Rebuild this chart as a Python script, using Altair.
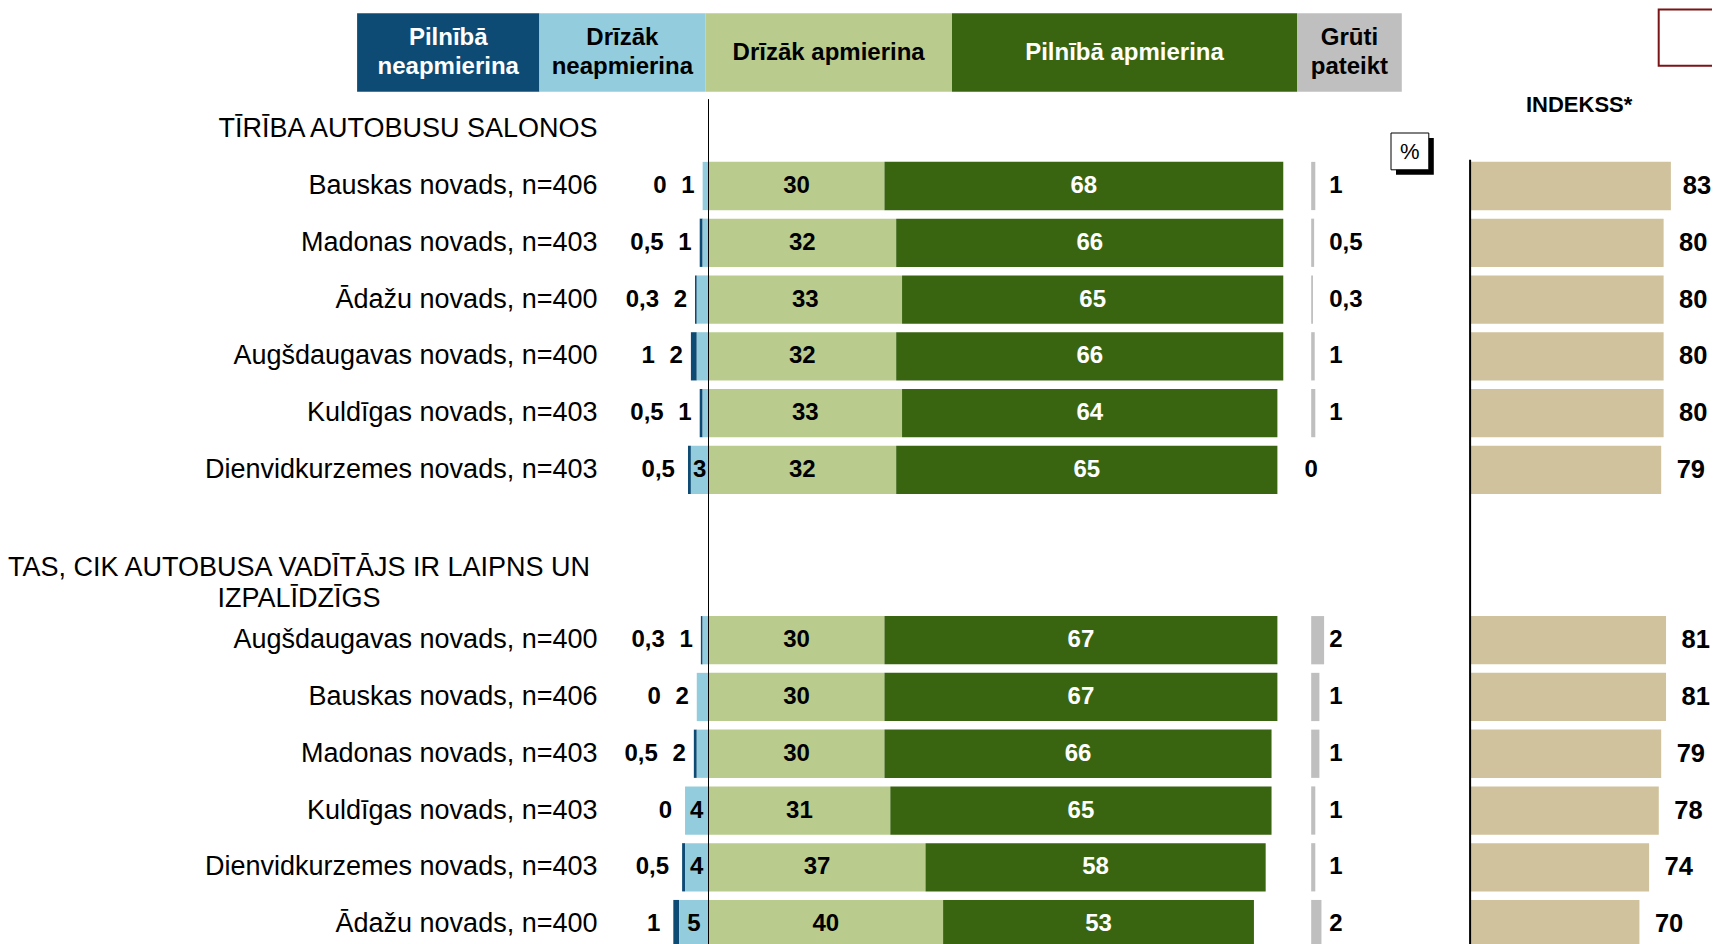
import altair as alt
import pandas as pd

FONT = "Liberation Sans"

# ---------------- data ----------------
legend_labels = ["Pilnībā\nneapmierina", "Drīzāk\nneapmierina", "Drīzāk apmierina",
                 "Pilnībā apmierina", "Grūti\npateikt"]

section_titles = ["TĪRĪBA AUTOBUSU SALONOS",
                  "TAS, CIK AUTOBUSA VADĪTĀJS IR LAIPNS UN~IZPALĪDZĪGS"]

s1_labels = ["Bauskas novads, n=406", "Madonas novads, n=403", "Ādažu novads, n=400",
             "Augšdaugavas novads, n=400", "Kuldīgas novads, n=403", "Dienvidkurzemes novads, n=403"]
s1_pilniba_neapm = [0, 0.5, 0.3, 1, 0.5, 0.5]
s1_drizak_neapm = [1, 1, 2, 2, 1, 3]
s1_drizak_apm = [30, 32, 33, 32, 33, 32]
s1_pilniba_apm = [68, 66, 65, 66, 64, 65]
s1_gruti = [1, 0.5, 0.3, 1, 1, 0]
s1_gruti_bar = [0.7, 0.5, 0.3, 0.6, 0.7, 0]
s1_indekss = [83, 80, 80, 80, 80, 79]

s2_labels = ["Augšdaugavas novads, n=400", "Bauskas novads, n=406", "Madonas novads, n=403",
             "Kuldīgas novads, n=403", "Dienvidkurzemes novads, n=403", "Ādažu novads, n=400"]
s2_pilniba_neapm = [0.3, 0, 0.5, 0, 0.5, 1]
s2_drizak_neapm = [1, 2, 2, 4, 4, 5]
s2_drizak_apm = [30, 30, 30, 31, 37, 40]
s2_pilniba_apm = [67, 67, 66, 65, 58, 53]
s2_gruti = [2, 1, 1, 1, 1, 2]
s2_gruti_bar = [2.2, 1.4, 1.4, 0.7, 0.7, 1.75]
s2_indekss = [81, 81, 79, 78, 74, 70]

# ---------------- table ----------------
keys1 = ["a%d|%s" % (i, l) for i, l in enumerate(s1_labels)]
keys2 = ["b%d|%s" % (i, l) for i, l in enumerate(s2_labels)]
domain = (["h1|" + section_titles[0]] + keys1 + ["gap|", "h2|" + section_titles[1]] + keys2)

df = pd.DataFrame({
    "key": keys1 + keys2,
    "n1": s1_pilniba_neapm + s2_pilniba_neapm,
    "n2": s1_drizak_neapm + s2_drizak_neapm,
    "p1": s1_drizak_apm + s2_drizak_apm,
    "p2": s1_pilniba_apm + s2_pilniba_apm,
    "gp": s1_gruti + s2_gruti,
    "gpbar": s1_gruti_bar + s2_gruti_bar,
    "idx": s1_indekss + s2_indekss,
})

# ---------------- styles / layout ----------------
DARK_BLUE = "#0E4B74"
LIGHT_BLUE = "#93CDDD"
LIGHT_GREEN = "#B9CC8E"
DARK_GREEN = "#3A6510"
GRAY = "#BFBFBF"
TAN = "#D0C29C"

W, H = 1704, 936
DY = 2.5
main_scale = alt.Scale(domain=[0, 100], range=[700.5, 1287.0], nice=False, zero=False)
gr_scale = alt.Scale(domain=[0, 10], range=[1303.2, 1361.8], nice=False, zero=False)
ix_scale = alt.Scale(domain=[0, 100], range=[1462.1, 1704.0], nice=False, zero=False)
y_scale = alt.Scale(domain=domain, range=[94.6 + DY, 937.7 + DY], paddingInner=0.15, paddingOuter=0)

axis_rows = alt.Axis(orient="left", offset=-589, title=None, domain=False, ticks=False,
                     tickSize=0, grid=False, labelPadding=0, labelAlign="right",
                     labelBaseline="middle", labelFont=FONT, labelFontSize=27,
                     labelColor="black", labelLimit=1000, labelOverlap=False,
                     labelExpr="indexof(datum.value, 'h2|') == 0 ? '' : split(datum.value, '|')[1]")
axis_h2 = alt.Axis(orient="left", offset=-290.5, title=None, domain=False, ticks=False,
                   tickSize=0, grid=False, labelPadding=0, labelAlign="center",
                   labelBaseline="middle", labelFont=FONT, labelFontSize=27,
                   labelColor="black", labelLimit=1000, labelOverlap=False, labelLineHeight=31,
                   labelOffset=-15.5,
                   labelExpr="indexof(datum.value, 'h2|') == 0 ? split(split(datum.value, '|')[1], '~') : ''")


def Y(axis=None):
    return alt.Y("key:N", scale=y_scale, axis=axis)


base = alt.Chart(df)
fmt = lambda f: "replace(toString(datum.%s), '.', ',')" % f
lbl = dict(font=FONT, fontWeight="bold", fontSize=24, baseline="middle")

layers = []

# negative side
layers.append(base.transform_calculate(a="-(datum.n1 + datum.n2)", b="-datum.n2")
              .mark_bar(color=DARK_BLUE)
              .encode(x=alt.X("a:Q", scale=main_scale, axis=None), x2="b:Q", y=Y(axis_h2)))
layers.append(base.transform_calculate(a="-datum.n2", b="0")
              .mark_bar(color=LIGHT_BLUE)
              .encode(x=alt.X("a:Q", scale=main_scale, axis=None), x2="b:Q", y=Y(axis_rows)))
# positive side
layers.append(base.transform_calculate(a="0", b="datum.p1")
              .mark_bar(color=LIGHT_GREEN)
              .encode(x=alt.X("a:Q", scale=main_scale, axis=None), x2="b:Q", y=Y()))
layers.append(base.transform_calculate(a="datum.p1", b="datum.p1 + datum.p2")
              .mark_bar(color=DARK_GREEN)
              .encode(x=alt.X("a:Q", scale=main_scale, axis=None), x2="b:Q", y=Y()))

# labels positive
layers.append(base.transform_calculate(c="datum.p1 / 2", t=fmt("p1"))
              .mark_text(color="black", align="center", **lbl)
              .encode(x=alt.X("c:Q", scale=main_scale, axis=None), y=Y(), text="t:N"))
layers.append(base.transform_calculate(c="datum.p1 + datum.p2 / 2", t=fmt("p2"))
              .mark_text(color="white", align="center", **lbl)
              .encode(x=alt.X("c:Q", scale=main_scale, axis=None), y=Y(), text="t:N"))
# labels negative
layers.append(base.transform_filter("datum.n2 >= 3")
              .transform_calculate(c="-datum.n2 / 2", t=fmt("n2"))
              .mark_text(color="black", align="center", **lbl)
              .encode(x=alt.X("c:Q", scale=main_scale, axis=None), y=Y(), text="t:N"))
layers.append(base.transform_filter("datum.n2 < 3")
              .transform_calculate(c="-(datum.n1 + datum.n2)", t=fmt("n2"))
              .mark_text(color="black", align="right", dx=-8, **lbl)
              .encode(x=alt.X("c:Q", scale=main_scale, axis=None), y=Y(), text="t:N"))
layers.append(base.transform_filter("datum.n2 >= 3")
              .transform_calculate(c="-(datum.n1 + datum.n2)", t=fmt("n1"))
              .mark_text(color="black", align="right", dx=-13, **lbl)
              .encode(x=alt.X("c:Q", scale=main_scale, axis=None), y=Y(), text="t:N"))
layers.append(base.transform_filter("datum.n2 < 3")
              .transform_calculate(c="-(datum.n1 + datum.n2)", t=fmt("n1"))
              .mark_text(color="black", align="right", dx=-36, **lbl)
              .encode(x=alt.X("c:Q", scale=main_scale, axis=None), y=Y(), text="t:N"))

# Grūti pateikt
layers.append(base.transform_calculate(z="0")
              .mark_bar(color=GRAY)
              .encode(x=alt.X("z:Q", scale=gr_scale, axis=None), x2="gpbar:Q", y=Y()))
layers.append(base.transform_filter("datum.gp > 0")
              .transform_calculate(z="0", t=fmt("gp"))
              .mark_text(color="black", align="left", dx=18, **lbl)
              .encode(x=alt.X("z:Q", scale=gr_scale, axis=None), y=Y(), text="t:N"))
layers.append(base.transform_filter("datum.gp == 0")
              .transform_calculate(z="0", t=fmt("gp"))
              .mark_text(color="black", align="center", **lbl)
              .encode(x=alt.X("z:Q", scale=gr_scale, axis=None), y=Y(), text="t:N"))

# Indekss (label kept inside the visible page at the right edge)
layers.append(base.transform_calculate(z="0")
              .mark_bar(color=TAN)
              .encode(x=alt.X("z:Q", scale=ix_scale, axis=None), x2="idx:Q", y=Y()))
layers.append(base.transform_calculate(lx="min(datum.idx + 6.4, 87.9)")
              .mark_text(color="black", align="left", font=FONT, fontWeight="bold",
                         fontSize=25.5, baseline="middle")
              .encode(x=alt.X("lx:Q", scale=ix_scale, axis=None), y=Y(), text="idx:Q"))

one = pd.DataFrame({"z": [0]})
# zero line and index axis line
layers.append(alt.Chart(one).mark_rule(color="black", strokeWidth=1)
              .encode(x=alt.X("z:Q", scale=main_scale, axis=None), y=alt.value(88.6 + DY), y2=alt.value(H + 10)))
layers.append(alt.Chart(one).mark_rule(color="black", strokeWidth=2)
              .encode(x=alt.X("z:Q", scale=ix_scale, axis=None), y=alt.value(149.3 + DY), y2=alt.value(H + 10)))

# legend header
legend_edges = [349.1, 531.4, 697.3, 944.0, 1289.0, 1393.8]
legend_fills = [DARK_BLUE, LIGHT_BLUE, LIGHT_GREEN, DARK_GREEN, GRAY]
legend_text = ["white", "black", "black", "white", "black"]
LEG_TOP, LEG_BOTTOM, LEG_LH = 3.0 + 2.2, 81.6 + 2.2, 28.4
for i, lab in enumerate(legend_labels):
    d = pd.DataFrame({"t": [lab]})
    l, r = legend_edges[i], legend_edges[i + 1]
    nlines = lab.count("\n") + 1
    yc = (LEG_TOP + LEG_BOTTOM) / 2 - (nlines - 1) * LEG_LH / 2
    layers.append(alt.Chart(d).mark_rect(color=legend_fills[i])
                  .encode(x=alt.value(l), x2=alt.value(r), y=alt.value(LEG_TOP), y2=alt.value(LEG_BOTTOM)))
    layers.append(alt.Chart(d).mark_text(color=legend_text[i], font=FONT, fontWeight="bold",
                                         fontSize=24, align="center", baseline="middle",
                                         lineBreak="\n", lineHeight=LEG_LH)
                  .encode(x=alt.value((l + r) / 2), y=alt.value(yc), text="t:N"))

# INDEKSS* title
layers.append(alt.Chart(pd.DataFrame({"t": ["INDEKSS*"]}))
              .mark_text(font=FONT, fontWeight="bold", fontSize=22, color="black",
                         align="center", baseline="middle")
              .encode(x=alt.value(1571.1), y=alt.value(96.8), text="t:N"))

# "%" box with shadow
pct = pd.DataFrame({"t": ["%"]})
layers.append(alt.Chart(pct).mark_rect(color="black")
              .encode(x=alt.value(1388.0), x2=alt.value(1425.8), y=alt.value(130.0), y2=alt.value(166.8)))
layers.append(alt.Chart(pct).mark_rect(fill="white", stroke="black", strokeWidth=1)
              .encode(x=alt.value(1383.0), x2=alt.value(1420.8), y=alt.value(125.0), y2=alt.value(161.8)))
layers.append(alt.Chart(pct).mark_text(font=FONT, fontSize=22, color="black",
                                       align="center", baseline="middle")
              .encode(x=alt.value(1401.9), y=alt.value(143.9), text="t:N"))

# red frame top right
layers.append(alt.Chart(pct).mark_rect(fill="white", stroke="#7B1416", strokeWidth=2)
              .encode(x=alt.value(1650.7), x2=alt.value(1740), y=alt.value(1.5), y2=alt.value(57.7)))

chart = (alt.layer(*layers)
         .resolve_scale(x="independent")
         .resolve_axis(y="independent")
         .properties(width=W, height=H, autosize="none", padding=0, background="white")
         .configure_view(stroke=None))

chart.save("out.html", embed_options={"renderer": "svg", "actions": False})
